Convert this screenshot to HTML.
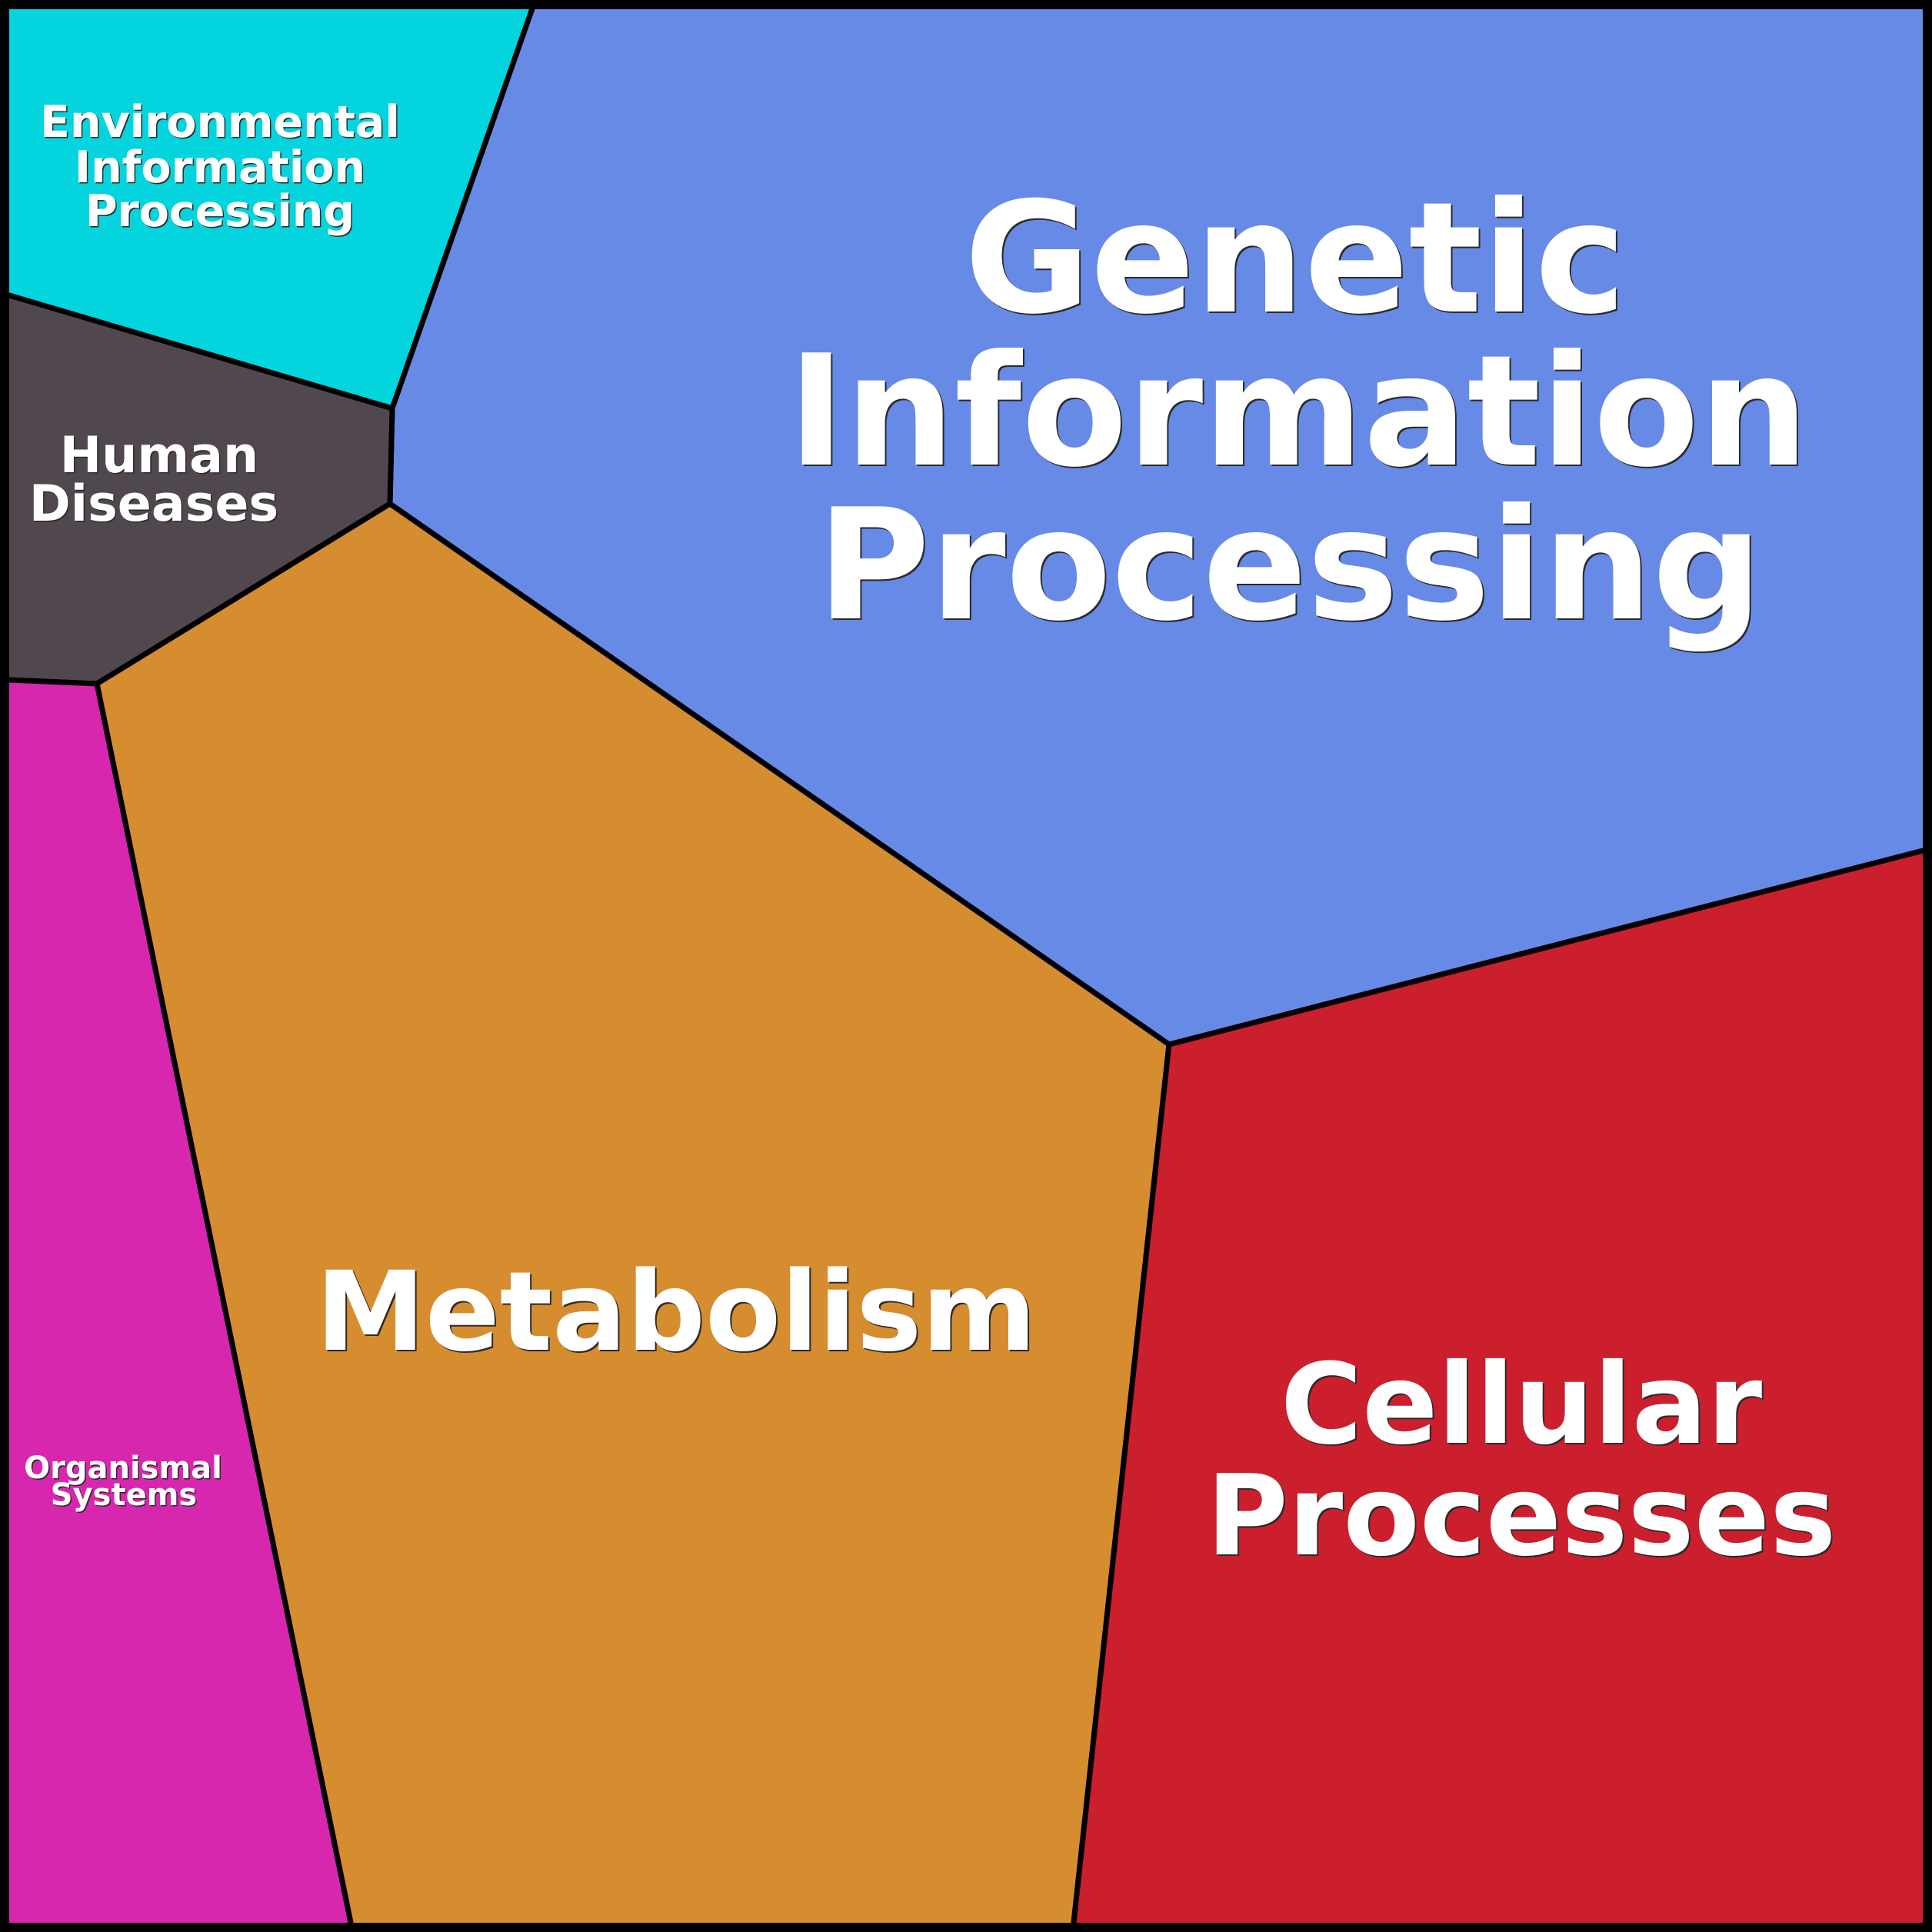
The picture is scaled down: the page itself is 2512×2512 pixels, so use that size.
<!DOCTYPE html>
<html>
<head>
<meta charset="utf-8">
<style>
  html, body { margin: 0; padding: 0; background: #000; }
  body { width: 2512px; height: 2512px; overflow: hidden; }
  svg { display: block; }
  text { font-family: "DejaVu Sans", "Liberation Sans", sans-serif; font-weight: bold; text-anchor: middle; }
  .sh { fill: #2a2a2a; }
  .fg { fill: #ffffff; }
</style>
</head>
<body>
<svg width="2512" height="2512" viewBox="0 0 2512 2512" xmlns="http://www.w3.org/2000/svg">
  <rect x="0" y="0" width="2512" height="2512" fill="#000"/>
  <g stroke="#000" stroke-width="7" stroke-linejoin="round">
    <!-- Environmental -->
    <polygon points="0,0 696,0 510,531 0,380.5" fill="#04d4de"/>
    <!-- Genetic -->
    <polygon points="696,0 2512,0 2512,1103 1520,1358 507,655 510,531" fill="#678ae6"/>
    <!-- Human -->
    <polygon points="0,380.5 510,531 507,655 126,889 0,883.5" fill="#51474f"/>
    <!-- Metabolism -->
    <polygon points="507,655 1520,1358 1394.7,2512 458.5,2512 126,889" fill="#d68d2f"/>
    <!-- Organismal -->
    <polygon points="0,883.5 126,889 458.5,2512 0,2512" fill="#d827af"/>
    <!-- Cellular -->
    <polygon points="1520,1358 2512,1103 2512,2512 1394.7,2512" fill="#cb1f2e"/>
  </g>
  <rect x="0" y="0" width="2512" height="2512" fill="none" stroke="#000" stroke-width="24"/>

  <!-- Genetic Information Processing -->
  <g font-size="200">
    <text class="sh" x="1686" y="407">Genetic</text>
    <text class="sh" x="1690" y="606">Information</text>
    <text class="sh" x="1679" y="806">Processing</text>
    <text class="fg" x="1684" y="405">Genetic</text>
    <text class="fg" x="1688" y="604">Information</text>
    <text class="fg" x="1677" y="804">Processing</text>
  </g>

  <!-- Metabolism -->
  <g font-size="143">
    <text class="sh" x="881" y="1757">Metabolism</text>
    <text class="fg" x="879" y="1755">Metabolism</text>
  </g>

  <!-- Cellular Processes -->
  <g font-size="145">
    <text class="sh" x="1980" y="1878">Cellular</text>
    <text class="sh" x="1980" y="2023">Processes</text>
    <text class="fg" x="1978" y="1876">Cellular</text>
    <text class="fg" x="1978" y="2021">Processes</text>
  </g>

  <!-- Environmental Information Processing -->
  <g font-size="57">
    <text class="sh" x="287.5" y="179.5">Environmental</text>
    <text class="sh" x="287.5" y="238.5">Information</text>
    <text class="sh" x="287.5" y="295.5">Processing</text>
    <text class="fg" x="286" y="178">Environmental</text>
    <text class="fg" x="286" y="237">Information</text>
    <text class="fg" x="286" y="294">Processing</text>
  </g>

  <!-- Human Diseases -->
  <g font-size="65">
    <text class="sh" x="208.5" y="615.5">Human</text>
    <text class="sh" x="201.5" y="678.5">Diseases</text>
    <text class="fg" x="207" y="614">Human</text>
    <text class="fg" x="200" y="677">Diseases</text>
  </g>

  <!-- Organismal Systems -->
  <g font-size="40">
    <text class="sh" x="161.5" y="1923.5">Organismal</text>
    <text class="sh" x="162.5" y="1958.5">Systems</text>
    <text class="fg" x="160" y="1922">Organismal</text>
    <text class="fg" x="161" y="1957">Systems</text>
  </g>
</svg>
</body>
</html>
